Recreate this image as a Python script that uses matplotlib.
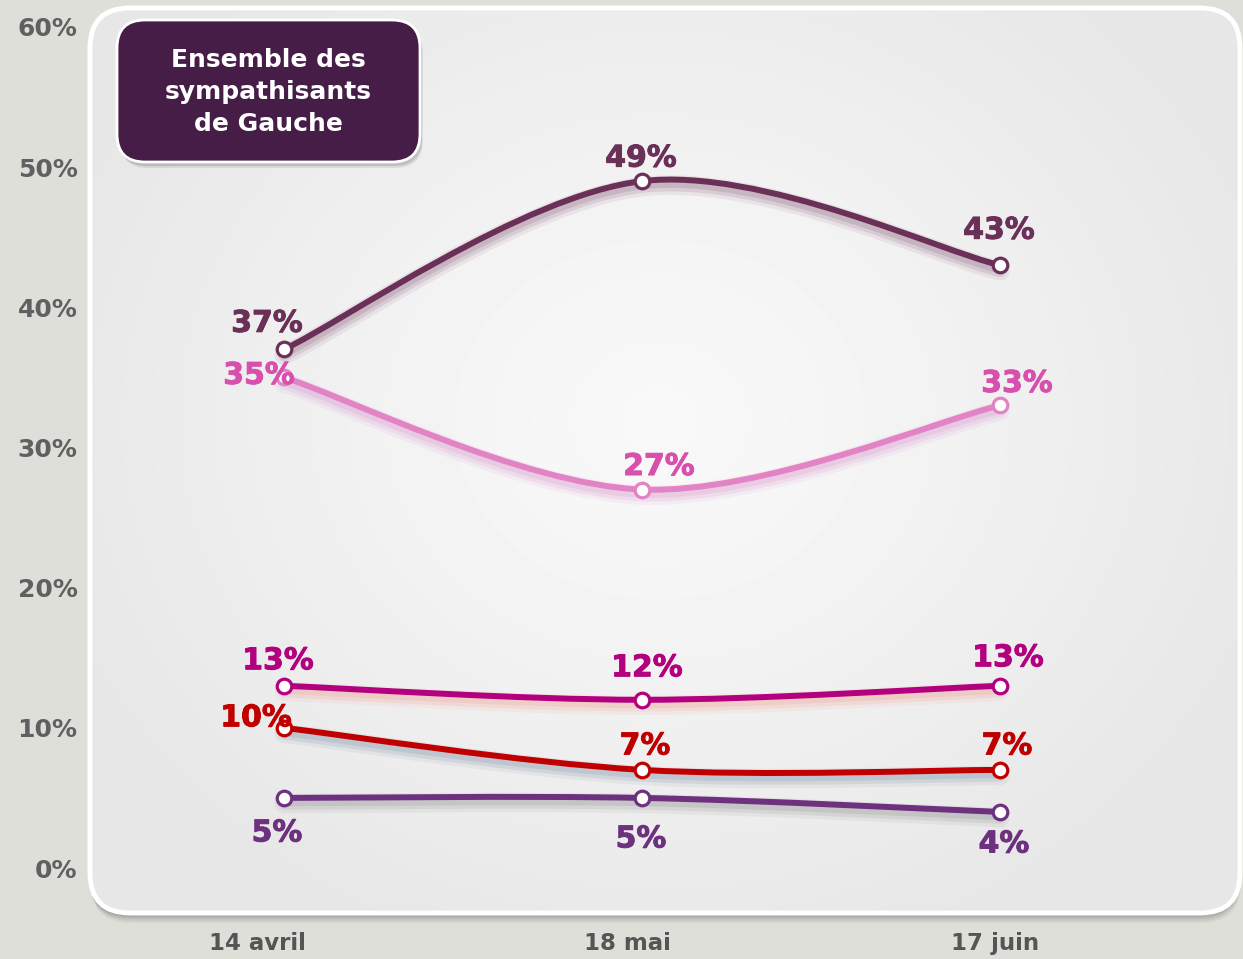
import numpy as np
import matplotlib
matplotlib.use("Agg")
import matplotlib.pyplot as plt
import matplotlib.patheffects as pe
from matplotlib.patches import FancyBboxPatch, PathPatch
from matplotlib.path import Path
from matplotlib.transforms import ScaledTranslation

# data
dates = ["14 avril", "18 mai", "17 juin"]
serie_prune = [37, 49, 43]
serie_rose = [35, 27, 33]
serie_magenta = [13, 12, 13]
serie_rouge = [10, 7, 7]
serie_violet = [5, 5, 4]
yticks = [0, 10, 20, 30, 40, 50, 60]
title = "Ensemble des\nsympathisants\nde Gauche"

W, H = 1243, 959

# (values, line colour, label colour, glow colour, label offsets in pixels)
styles = [
    (serie_prune, "#6b3058", "#6b3058", "#6b3058",
     [(-17, 26), (-1, 23), (-1, 35)]),
    (serie_rose, "#e283c5", "#d94fae", "#d070c0",
     [(-25, 2), (17, 23), (17, 22)]),
    (serie_magenta, "#b3007e", "#b3007e", "#f08070",
     [(-6, 25), (5, 32), (8, 28)]),
    (serie_rouge, "#c00000", "#c00000", "#5a7090",
     [(-28, 10), (3, 24), (7, 24)]),
    (serie_violet, "#6e317f", "#6e317f", "#707070",
     [(-7, -35), (-1, -41), (4, -32)]),
]


def smooth_path(xs, ys):
    pts = np.column_stack([xs, ys]).astype(float)
    n = len(pts)
    verts = [pts[0]]
    codes = [Path.MOVETO]
    for i in range(n - 1):
        p0 = pts[max(i - 1, 0)]
        p1 = pts[i]
        p2 = pts[i + 1]
        p3 = pts[min(i + 2, n - 1)]
        verts += [p1 + (p2 - p0) / 6, p2 - (p3 - p1) / 6, p2]
        codes += [Path.CURVE4] * 3
    return Path(verts, codes)


plt.rcParams["font.family"] = ["DejaVu Sans"]
fig = plt.figure(figsize=(W / 100, H / 100), dpi=100)
fig.patch.set_facecolor("#dfdfd9")

# background layer in pixel coordinates
bg = fig.add_axes([0, 0, 1, 1], zorder=0)
bg.set_xlim(0, W)
bg.set_ylim(H, 0)
bg.axis("off")

px0, py0, pw, ph = 90, 8, 1150, 905
for k, a in enumerate([0.06, 0.08, 0.10, 0.14]):
    off = 10 - 2 * k
    bg.add_patch(FancyBboxPatch((px0 - 2 + off * 0.3, py0 + off), pw, ph,
                                boxstyle="round,pad=0,rounding_size=40",
                                fc="#404040", ec="none", alpha=a, zorder=0.5))
panel = FancyBboxPatch((px0, py0), pw, ph, boxstyle="round,pad=0,rounding_size=40",
                       fc="#e8e8e8", ec="none", zorder=0.8)
bg.add_patch(panel)
gx, gy = np.meshgrid(np.linspace(px0, px0 + pw, 300), np.linspace(py0, py0 + ph, 240))
r = np.sqrt(((gx - 660) / 640) ** 2 + ((gy - 420) / 560) ** 2)
shade = 0.975 - 0.07 * np.clip(r, 0, 1) ** 1.2
img = bg.imshow(shade, cmap="gray", vmin=0, vmax=1, extent=(px0, px0 + pw, py0 + ph, py0),
                aspect="auto", interpolation="bicubic", zorder=1)
img.set_clip_path(panel)
bg.add_patch(FancyBboxPatch((px0, py0), pw, ph, boxstyle="round,pad=0,rounding_size=40",
                            fc="none", ec="white", lw=3.5, zorder=1.5))

# title box
for k, a in enumerate([0.10, 0.16]):
    bg.add_patch(FancyBboxPatch((117 + 3 - k, 20 + 6 - 2 * k), 303, 142,
                                boxstyle="round,pad=0,rounding_size=28",
                                fc="#303030", ec="none", alpha=a, zorder=2))
bg.add_patch(FancyBboxPatch((117, 20), 303, 142, boxstyle="round,pad=0,rounding_size=28",
                            fc="#451d47", ec="white", lw=2, zorder=2.5))
bg.text(268, 92, title, ha="center", va="center", color="white", fontsize=18,
        fontweight="bold", linespacing=1.42, zorder=3)

# data axes
ax = fig.add_axes([px0 / W, (H - 913) / H, (1243 - px0) / W, (913 - 8) / H], zorder=1)
ax.patch.set_visible(False)
ax.set_xlim(-0.5419, 2.6788)
ax.set_ylim(-3.21, 61.35)
for s in ax.spines.values():
    s.set_visible(False)

ax.set_yticks(yticks)
ax.set_yticklabels([f"{t}%" for t in yticks])
ax.tick_params(axis="y", length=0, pad=9, labelsize=18, labelcolor="#606060")
xs = np.arange(len(dates))
ax.set_xticks(xs)
ax.set_xticklabels(dates)
ax.tick_params(axis="x", length=0, pad=14, labelsize=16.5, labelcolor="#555555")
for lab in ax.get_yticklabels() + ax.get_xticklabels():
    lab.set_fontweight("bold")
for lab, dx in zip(ax.get_xticklabels(), [-27, -15, -5]):
    lab.set_transform(lab.get_transform() + ScaledTranslation(dx / 100, 0, fig.dpi_scale_trans))

for vals, lc, tc, gc, offs in styles:
    path = smooth_path(xs, vals)
    glow = PathPatch(path, fill=False, ec=lc, lw=4.3, capstyle="round", zorder=3,
                     path_effects=[
                         pe.SimpleLineShadow(offset=(0, -4), shadow_color=gc, alpha=0.08, linewidth=14),
                         pe.SimpleLineShadow(offset=(0, -4), shadow_color=gc, alpha=0.12, linewidth=9),
                         pe.SimpleLineShadow(offset=(0, -3.5), shadow_color=gc, alpha=0.15, linewidth=5),
                         pe.Normal()])
    ax.add_patch(glow)
    ax.plot(xs, vals, ls="none", marker="o", ms=10.5, mfc="white", mec=lc, mew=2.3, zorder=4)
    for x, v, (dx, dy) in zip(xs, vals, offs):
        ax.annotate(f"{v}%", (x, v), xytext=(dx, dy), textcoords="offset pixels",
                    ha="center", va="center", fontsize=21.5, fontweight="bold",
                    color=tc, zorder=5,
                    path_effects=[pe.withStroke(linewidth=0.7, foreground=tc)])

fig.savefig("out.png", dpi=100, facecolor=fig.get_facecolor())
